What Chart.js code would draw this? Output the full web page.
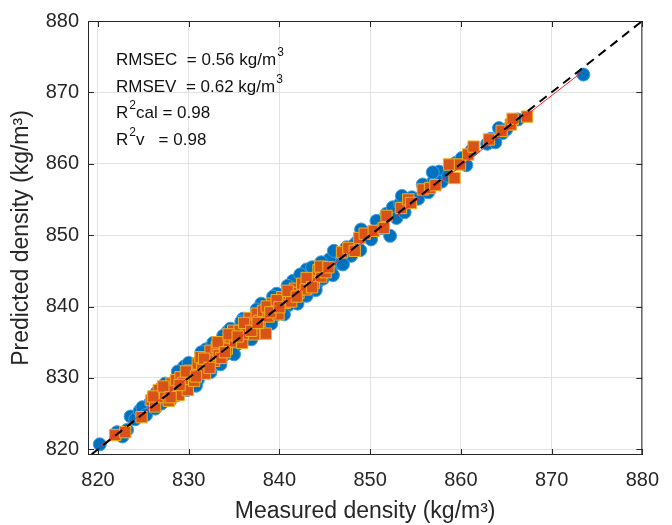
<!DOCTYPE html>
<html>
<head>
<meta charset="utf-8">
<script src="https://cdn.jsdelivr.net/npm/chart.js@4/dist/chart.umd.min.js"></script>
<style>
  html, body { margin:0; padding:0; background:#fff; }
  #wrap { width:672px; height:525px; }
</style>
</head>
<body>
<div id="wrap"><canvas id="myChart" width="672" height="525"></canvas></div>
<script>
// calibration set (measured, predicted)
var calMeasured = [820.2,822.1,822.7,823.2,823.6,824.1,824.6,824.9,825.3,825.8,826.0,826.3,826.7,827.0,827.2,827.6,827.9,828.1,828.4,828.7,
  829.0,829.3,829.6,829.9,830.2,830.4,830.7,831.0,831.2,831.5,831.8,832.0,832.3,832.6,832.9,833.1,833.4,833.7,834.0,834.2,
  834.5,834.8,835.1,835.3,835.6,835.9,836.2,836.5,836.7,837.0,837.3,837.6,837.9,838.1,838.4,838.7,839.0,839.3,839.5,839.8,
  840.1,840.4,840.7,841.0,841.3,841.6,841.9,842.2,842.5,842.8,843.1,843.4,843.7,844.1,844.4,844.8,845.2,845.7,846.3,846.8,
  847.4,847.9,848.5,848.9,849.5,850.1,850.7,851.3,851.8,852.2,852.5,852.9,853.3,853.8,854.6,855.3,855.8,856.4,857.0,857.6,
  857.9,858.6,859.4,860.1,860.6,861.2,862.9,863.3,863.8,864.2,864.6,865.0,866.3,873.5,
  826.8,829.5,831.9,834.3,836.0,838.0,839.7,841.5,843.0,844.0,845.5,847.0,848.2,830.8,833.5,836.9,839.1,842.0,833.8,
  826.5,827.4,828.8,830.0,831.4,832.7,834.6,835.8,837.5,839.3,840.9,842.3,843.6,844.6,846.0,828.0,829.8,832.4,835.0,837.8,
  840.5,843.0,845.9,849.0,853.5,856.9];
var calPredicted = [820.7,822.4,821.8,822.7,824.6,824.2,825.4,825.9,824.8,826.6,827.1,825.7,827.6,826.4,828.3,827.0,829.0,828.0,829.5,827.6,
  830.2,829.0,830.8,828.9,831.4,830.2,831.9,829.7,832.4,831.2,833.0,830.9,833.5,832.1,834.1,832.5,834.6,833.0,835.2,833.4,
  835.7,834.1,836.3,834.7,836.9,835.0,837.4,835.8,838.0,836.2,838.5,836.9,839.1,837.5,839.6,838.0,840.1,838.5,840.7,839.0,
  841.2,839.6,841.8,840.2,842.3,840.8,842.9,841.3,843.4,841.9,844.0,842.6,844.4,843.2,845.0,843.9,845.6,844.9,847.1,846.0,
  848.3,847.1,849.0,847.9,850.3,849.4,852.0,851.0,853.0,849.9,853.9,852.4,854.4,853.2,855.3,855.1,857.1,856.0,857.6,858.9,
  857.5,858.3,860.1,860.8,859.8,861.9,862.8,863.5,863.0,865.0,864.3,864.8,866.2,872.5,
  828.4,831.6,834.0,836.5,838.3,840.4,841.8,843.6,845.2,842.3,846.6,845.9,848.6,828.9,831.9,835.4,837.6,840.4,835.9,
  828.0,829.2,830.9,832.1,833.6,834.9,836.9,837.9,839.6,841.4,842.9,844.5,845.5,846.2,847.8,826.9,828.3,830.8,833.3,836.3,
  838.9,841.5,844.4,850.8,855.5,858.8];

// validation set (measured, predicted)
var valMeasured = [821.9,823.0,824.8,825.9,826.3,826.7,827.0,827.4,827.8,828.1,828.3,828.6,828.9,829.1,829.4,829.9,830.1,830.3,830.6,831.0,
  831.3,831.5,831.8,832.1,832.4,832.8,833.1,833.3,833.6,833.9,834.2,834.6,834.9,835.1,835.6,835.9,836.4,836.7,837.0,837.2,
  837.5,837.8,838.2,838.5,838.8,839.2,839.5,839.9,840.3,840.6,841.0,841.3,841.7,842.1,842.5,842.9,843.3,843.8,844.3,844.6,
  845.1,846.9,847.6,848.3,848.8,849.4,850.4,851.5,851.8,853.4,854.2,854.5,855.8,856.6,857.2,858.7,859.3,859.9,860.8,861.4,
  863.1,864.5,865.5,865.7,867.3,
  826.1,827.2,828.0,829.0,829.7,830.8,831.7,832.3,833.2,834.0,834.4,835.4,836.1,836.9,837.6,838.6,839.0,839.7,840.0,840.9,
  841.9,843.0,843.6,844.5,845.4];
var valPredicted = [822.0,822.4,824.5,826.9,826.0,828.3,827.3,827.8,826.8,829.2,828.5,829.7,827.6,830.1,829.3,828.3,831.0,830.4,829.6,832.0,
  832.9,831.2,830.6,832.6,833.8,832.4,834.3,833.2,832.8,834.8,834.1,835.7,836.6,835.1,836.6,834.9,836.2,838.4,837.3,836.1,
  839.0,838.0,839.4,836.2,838.6,840.4,839.5,838.9,841.3,840.5,841.8,840.7,842.5,841.9,843.2,842.4,843.9,843.3,845.1,844.2,
  844.8,847.6,848.2,847.8,849.6,850.2,850.6,851.0,852.7,853.8,855.0,854.5,856.4,856.6,857.0,859.9,858.0,859.9,861.3,862.4,
  863.4,864.6,865.5,866.3,866.6,
  827.4,828.8,827.3,829.0,830.9,830.2,832.7,831.4,835.0,833.6,836.1,835.8,837.7,836.6,837.7,840.0,839.2,840.9,839.9,842.2,
  841.4,844.0,842.7,845.6,845.5];

// fitted line and 1:1 line
var fitX = [820.2, 873.5];
var fitY = [820.4, 873.0];
var idealX = [818, 881];
var idealY = [818, 881];

var xTicks = [820, 830, 840, 850, 860, 870, 880];
var yTicks = [820, 830, 840, 850, 860, 870, 880];

var notes = [
  ["RMSEC  = 0.56 kg/m", "^3"],
  ["RMSEV  = 0.62 kg/m", "^3"],
  ["R", "^2", "cal = 0.98"],
  ["R", "^2", "v   = 0.98"]
];

function pairs(xs, ys){
  var out = [];
  for (var i = 0; i < xs.length; i++) out.push({x: xs[i], y: ys[i]});
  return out;
}

var FONT = "'Liberation Sans', Arial, Helvetica, sans-serif";
var INK = '#262626';

var boxPlugin = {
  id: 'box',
  afterDatasetsDraw: function(chart){
    var ctx = chart.ctx, a = chart.chartArea;
    var xs = chart.scales.x, ys = chart.scales.y;
    ctx.save();
    ctx.strokeStyle = INK;
    ctx.lineWidth = 1;
    ctx.strokeRect(a.left + 0.5, a.top + 0.5, a.right - a.left - 1, a.bottom - a.top - 1);
    ctx.beginPath();
    xTicks.forEach(function(v){
      var p = Math.round(xs.getPixelForValue(v)) + 0.5;
      ctx.moveTo(p, a.bottom); ctx.lineTo(p, a.bottom - 6);
      ctx.moveTo(p, a.top); ctx.lineTo(p, a.top + 6);
    });
    yTicks.forEach(function(v){
      var p = Math.round(ys.getPixelForValue(v)) + 0.5;
      ctx.moveTo(a.left, p); ctx.lineTo(a.left + 6, p);
      ctx.moveTo(a.right, p); ctx.lineTo(a.right - 6, p);
    });
    ctx.stroke();

    // stats text
    ctx.fillStyle = '#111';
    ctx.textBaseline = 'alphabetic';
    var x0 = a.left + 28, y0 = a.top + 44, step = 26.7;
    notes.forEach(function(parts, i){
      var x = x0, y = y0 + i * step;
      parts.forEach(function(s){
        if (s.charAt(0) === '^') {
          s = s.slice(1);
          ctx.font = '12px ' + FONT;
          ctx.fillText(s, x + 1, y - 9);
          x += ctx.measureText(s).width + 1;
        } else {
          ctx.font = '17px ' + FONT;
          ctx.fillText(s, x, y);
          x += ctx.measureText(s).width;
        }
      });
    });
    ctx.restore();
  }
};

var ctx = document.getElementById('myChart');
var chart = new Chart(ctx, {
  type: 'scatter',
  data: {
    datasets: [
      {
        type: 'line',
        data: pairs(idealX, idealY),
        borderColor: '#000',
        borderWidth: 2,
        borderDash: [9, 6],
        pointRadius: 0,
        fill: false
      },
      {
        type: 'line',
        data: pairs(fitX, fitY),
        borderColor: '#ff2020',
        borderWidth: 1,
        pointRadius: 0,
        fill: false
      },
      {
        label: 'Validation',
        data: pairs(valMeasured, valPredicted),
        pointStyle: 'rect',
        pointRadius: 8,
        backgroundColor: '#D95319',
        borderColor: '#EDB120',
        borderWidth: 1
      },
      {
        label: 'Calibration',
        data: pairs(calMeasured, calPredicted),
        pointStyle: 'circle',
        pointRadius: 6.5,
        backgroundColor: '#0072BD',
        borderColor: '#3d9ee0',
        borderWidth: 1
      }
    ]
  },
  options: {
    responsive: false,
    animation: false,
    layout: { padding: { top: 19, right: 19, left: 0, bottom: 0 } },
    plugins: {
      legend: { display: false },
      tooltip: { enabled: false }
    },
    scales: {
      x: {
        type: 'linear',
        min: 818.9, max: 880,
        afterBuildTicks: function(s){ s.ticks = xTicks.map(function(v){ return {value: v}; }); },
        afterFit: function(s){ s.height = 70; },
        grid: { color: '#e2e2e2', drawTicks: false },
        border: { display: false },
        ticks: { color: INK, font: { family: FONT, size: 20 }, padding: 13, maxRotation: 0 },
        title: { display: true, text: 'Measured density (kg/m³)', color: INK,
                 font: { family: FONT, size: 23 }, padding: { top: 2, bottom: 0 } }
      },
      y: {
        type: 'linear',
        min: 819.2, max: 880,
        afterBuildTicks: function(s){ s.ticks = yTicks.map(function(v){ return {value: v}; }); },
        afterFit: function(s){ s.width = 88; },
        grid: { color: '#e2e2e2', drawTicks: false },
        border: { display: false },
        ticks: { color: INK, font: { family: FONT, size: 20 }, padding: 9 },
        title: { display: true, text: 'Predicted density (kg/m³)', color: INK,
                 font: { family: FONT, size: 23 }, padding: { top: 8, bottom: 0 } }
      }
    }
  },
  plugins: [boxPlugin]
});
</script>
</body>
</html>
